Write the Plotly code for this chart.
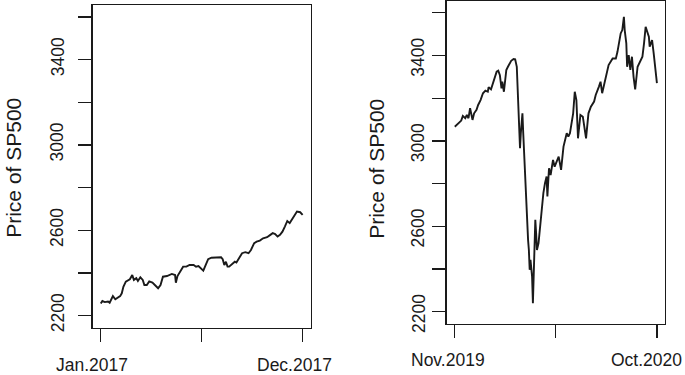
import plotly.graph_objects as go

# ---- Data (trading-day index, closing price) ----
left_n = 251
left_days = [1, 3, 6, 10, 12, 16, 19, 21, 25, 27, 29, 32, 35, 37, 40, 42, 45, 47, 50, 53,
             55, 58, 61, 65, 68, 72, 75, 78, 83, 89, 93, 94, 96, 99, 103, 107, 111, 116, 119, 122,
             126, 128, 131, 134, 138, 145, 150, 152, 154, 156, 158, 160, 164, 167, 169, 173, 176, 180, 184, 187,
             191, 194, 198, 202, 207, 211, 214, 217, 220, 223, 226, 229, 232, 235, 239, 242, 244, 248, 251]
left_vals = [2257, 2269, 2264, 2267, 2261, 2292, 2277, 2282, 2292, 2305, 2336, 2360, 2368, 2371, 2391, 2368, 2376, 2363, 2380, 2368,
             2344, 2344, 2361, 2355, 2344, 2329, 2344, 2383, 2386, 2396, 2391, 2355, 2386, 2406, 2430, 2430, 2438, 2438, 2430, 2433,
             2418, 2411, 2438, 2465, 2472, 2474, 2474, 2465, 2438, 2453, 2430, 2430, 2446, 2453, 2449, 2477, 2493, 2498, 2493, 2508,
             2540, 2547, 2552, 2563, 2568, 2579, 2587, 2583, 2571, 2579, 2594, 2618, 2644, 2634, 2657, 2673, 2688, 2685, 2673]

right_n = 252
right_days = [1, 5, 9, 11, 14, 16, 18, 20, 23, 25, 28, 30, 33, 36, 39, 42, 43, 46, 49, 51,
              53, 55, 57, 59, 60, 62, 64, 65, 67, 71, 74, 76, 78, 79, 80, 81, 82, 83, 85, 86,
              87, 89, 90, 91, 92, 93, 94, 95, 97, 98, 100, 101, 102, 103, 105, 107, 109, 111, 113, 115,
              116, 118, 120, 123, 125, 127, 130, 133, 136, 140, 142, 144, 148, 150, 152, 154, 157, 160, 164, 167,
              170, 174, 176, 180, 182, 184, 189, 192, 197, 201, 203, 205, 207, 209, 211, 212, 214, 215, 217, 219,
              221, 223, 225, 228, 232, 234, 236, 238, 240, 242, 243, 245, 246, 248, 250, 252]
right_vals = [3066, 3079, 3095, 3117, 3106, 3121, 3106, 3153, 3098, 3129, 3145, 3168, 3191, 3223, 3235, 3230, 3251, 3241, 3277, 3293,
              3324, 3329, 3308, 3246, 3277, 3230, 3285, 3332, 3347, 3375, 3383, 3382, 3347, 3254, 3145, 3098, 2965, 3036, 3129, 3036,
              2942, 2755, 2739, 2630, 2536, 2489, 2396, 2443, 2364, 2240, 2443, 2630, 2568, 2489, 2521, 2599, 2692, 2755, 2802, 2833,
              2739, 2872, 2840, 2911, 2879, 2895, 2926, 2864, 2973, 3036, 3020, 3036, 3129, 3230, 3191, 3012, 3121, 3113, 3012, 3129,
              3160, 3184, 3215, 3254, 3277, 3223, 3316, 3355, 3386, 3386, 3417, 3472, 3503, 3519, 3581, 3519, 3457, 3347, 3402, 3332,
              3394, 3300, 3241, 3347, 3379, 3394, 3457, 3534, 3511, 3488, 3441, 3457, 3472, 3410, 3347, 3270]

y_ticks = [2200, 2400, 2600, 2800, 3000, 3200, 3400, 3600]
y_labels = ["2200", "3400", "3000", "2600"]
y_label_vals = [2200, 3400, 3000, 2600]
left_xlabels = ["Jan.2017", "Dec.2017"]
right_xlabels = ["Nov.2019", "Oct.2020"]
y_title = "Price of SP500"
ylim = (2200, 3600)

W, H = 685, 375
INK = "#1a1a1a"
FONT = "Liberation Sans, Arial, Helvetica, sans-serif"

def px_x(p):
    return p / W

def px_y(p):
    return 1 - p / H

def xrange_for(n):
    ext = 0.04 * (n - 1)
    return [1 - ext, n + ext]

yext = 0.04 * (ylim[1] - ylim[0])
yrange = [ylim[0] - yext, ylim[1] + yext]

fig = go.Figure()
fig.add_trace(go.Scatter(x=left_days, y=left_vals, mode="lines",
                         line=dict(color=INK, width=1.9), xaxis="x", yaxis="y", showlegend=False))
fig.add_trace(go.Scatter(x=right_days, y=right_vals, mode="lines",
                         line=dict(color=INK, width=1.9), xaxis="x2", yaxis="y2", showlegend=False))

axis_common = dict(showgrid=False, zeroline=False, showline=True, mirror=True,
                   linecolor=INK, linewidth=1.3, ticks="outside", ticklen=13,
                   tickwidth=1.3, tickcolor=INK, showticklabels=False)

fig.update_layout(
    width=W, height=H,
    margin=dict(l=0, r=0, t=0, b=0),
    paper_bgcolor="white", plot_bgcolor="white",
    font=dict(family=FONT, color=INK),
    xaxis=dict(domain=[px_x(92.7), px_x(310.7)], range=xrange_for(left_n),
               tickvals=[1, (1 + left_n) / 2, left_n], anchor="y", **axis_common),
    yaxis=dict(domain=[px_y(327.7), px_y(5)], range=yrange,
               tickvals=y_ticks, anchor="x", **axis_common),
    xaxis2=dict(domain=[px_x(446.7), px_x(665)], range=xrange_for(right_n),
                tickvals=[1, (1 + right_n) / 2, right_n], anchor="y2", **axis_common),
    yaxis2=dict(domain=[px_y(323.6), px_y(0.8)], range=yrange,
                tickvals=y_ticks, anchor="x2", **axis_common),
)

ann = []
# y tick labels (rotated, as in base R)
for lab, v in zip(y_labels, y_label_vals):
    ann.append(dict(text=lab, x=px_x(57.5), xref="paper", y=v, yref="y", yshift=3,
                    textangle=-90, showarrow=False, xanchor="center", yanchor="middle",
                    font=dict(size=17.5, family=FONT, color=INK)))
    ann.append(dict(text=lab, x=px_x(418.3), xref="paper", y=v, yref="y2", yshift=-2,
                    textangle=-90, showarrow=False, xanchor="center", yanchor="middle",
                    font=dict(size=17.5, family=FONT, color=INK)))
# x labels
for lab, xv, sh in zip(left_xlabels, [1, left_n], [-8.3, -8.4]):
    ann.append(dict(text=lab, x=xv, xref="x", xshift=sh, y=px_y(365), yref="paper",
                    showarrow=False, xanchor="center", yanchor="middle",
                    font=dict(size=17.5, family=FONT, color=INK)))
for lab, xv, sh in zip(right_xlabels, [1, right_n], [-7.1, -10.5]):
    ann.append(dict(text=lab, x=xv, xref="x2", xshift=sh, y=px_y(360), yref="paper",
                    showarrow=False, xanchor="center", yanchor="middle",
                    font=dict(size=17.5, family=FONT, color=INK)))
# y titles
ann.append(dict(text=y_title, x=px_x(13.3), xref="paper", y=px_y(167.5), yref="paper",
                textangle=-90, showarrow=False, xanchor="center", yanchor="middle",
                font=dict(size=21, family=FONT, color=INK)))
ann.append(dict(text=y_title, x=px_x(375.8), xref="paper", y=px_y(169), yref="paper",
                textangle=-90, showarrow=False, xanchor="center", yanchor="middle",
                font=dict(size=21, family=FONT, color=INK)))
fig.update_layout(annotations=ann)

fig.write_html("out.html", config={"displayModeBar": False, "staticPlot": True},
               post_script="document.body.style.margin='0';document.body.style.overflow='hidden';")
